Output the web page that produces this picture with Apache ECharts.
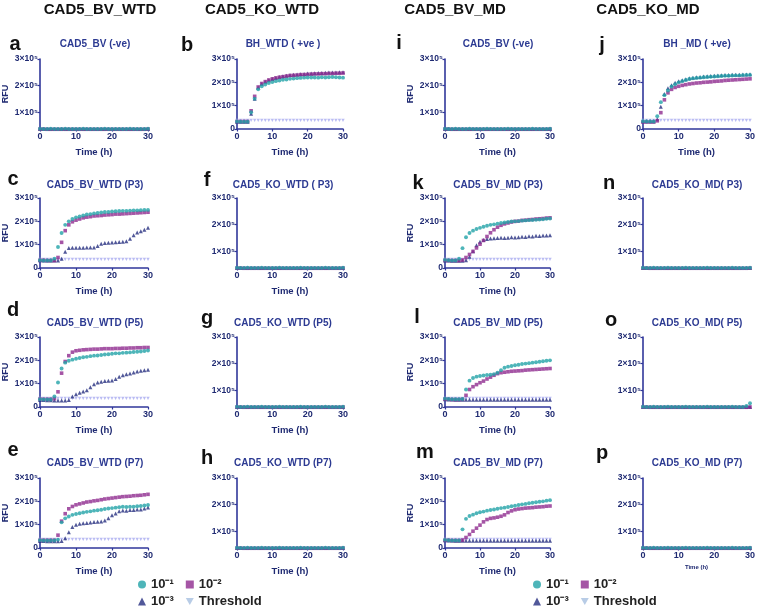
<!DOCTYPE html>
<html><head><meta charset="utf-8">
<script src="https://cdn.jsdelivr.net/npm/echarts@6/dist/echarts.min.js"></script>
<style>html,body{margin:0;padding:0;background:#fff}#c{width:758px;height:606px}</style>
</head><body><div id="c"></div>
<script>
// ---- data (RFU in units of 10^5), readings every hour ----
const time = [0,1,2,3,4,5,6,7,8,9,10,11,12,13,14,15,16,17,18,19,20,21,22,23,24,25,26,27,28,29,30];
const yTicks = [1,2,3];

const threshold = [0.37,0.37,0.37,0.37,0.37,0.37,0.37,0.37,0.37,0.37,
  0.37,0.37,0.37,0.37,0.37,0.37,0.37,0.37,0.37,0.37,
  0.37,0.37,0.37,0.37,0.37,0.37,0.37,0.37,0.37,0.37,0.37];
const negTeal = [0.39,0.38,0.38,0.39,0.38,0.38,0.38,0.39,0.38,0.38,
  0.38,0.38,0.39,0.38,0.38,0.38,0.38,0.38,0.39,0.38,
  0.38,0.38,0.38,0.38,0.38,0.39,0.38,0.38,0.38,0.38,0.39];
const negPurple = [0.38,0.38,0.37,0.37,0.37,0.37,0.37,0.37,0.37,0.37,
  0.37,0.37,0.37,0.37,0.37,0.37,0.37,0.37,0.37,0.37,
  0.37,0.37,0.37,0.37,0.37,0.37,0.37,0.37,0.37,0.37,0.38];
const negNavy = [0.38,0.38,0.38,0.38,0.38,0.38,0.38,0.38,0.38,0.38,
  0.38,0.38,0.38,0.38,0.38,0.38,0.38,0.38,0.38,0.38,
  0.38,0.38,0.38,0.38,0.38,0.38,0.38,0.38,0.38,0.38,0.38];
const o_teal = [0.39,0.38,0.38,0.39,0.38,0.38,0.38,0.39,0.38,0.38,
  0.38,0.38,0.39,0.38,0.38,0.38,0.38,0.38,0.39,0.38,
  0.38,0.38,0.38,0.38,0.38,0.39,0.38,0.38,0.38,0.42,0.52];
const flatNavy = [0.33,0.32,0.32,0.31,0.31,0.31,0.31,0.31,0.31,0.31,
  0.31,0.31,0.31,0.31,0.31,0.31,0.31,0.31,0.31,0.31,
  0.31,0.31,0.31,0.31,0.31,0.31,0.31,0.31,0.31,0.31,0.31];

const b_t1 = [0.32,0.31,0.31,0.31,0.72,1.3,1.7,1.83,1.91,1.97,2.01,2.05,2.08,2.11,2.12,2.15,2.16,2.18,2.19,2.2,2.21,2.21,2.21,2.2,2.22,2.21,2.22,2.23,2.22,2.21,2.2];
const b_t2 = [0.32,0.32,0.32,0.32,0.78,1.4,1.8,1.95,2.03,2.1,2.15,2.19,2.22,2.24,2.27,2.29,2.3,2.31,2.33,2.33,2.34,2.35,2.36,2.36,2.37,2.37,2.38,2.38,2.39,2.39,2.4];
const b_t3 = [0.31,0.31,0.31,0.31,0.65,1.3,1.78,1.93,2.02,2.09,2.14,2.19,2.23,2.26,2.28,2.31,2.32,2.34,2.35,2.36,2.38,2.38,2.39,2.4,2.4,2.41,2.42,2.42,2.42,2.43,2.43];

const c_t1 = [0.33,0.32,0.32,0.32,0.4,0.9,1.5,1.85,2.0,2.1,2.17,2.21,2.25,2.29,2.31,2.34,2.36,2.38,2.4,2.4,2.42,2.43,2.44,2.45,2.45,2.46,2.47,2.47,2.48,2.49,2.49];
const c_t2 = [0.33,0.33,0.32,0.32,0.32,0.45,1.1,1.6,1.85,1.98,2.05,2.1,2.15,2.18,2.2,2.23,2.24,2.25,2.27,2.28,2.29,2.31,2.31,2.32,2.33,2.34,2.35,2.36,2.37,2.38,2.39];
const c_t3 = [0.33,0.32,0.32,0.32,0.32,0.32,0.4,0.7,0.86,0.87,0.87,0.87,0.87,0.88,0.88,0.88,0.94,1.04,1.07,1.08,1.09,1.1,1.11,1.12,1.15,1.25,1.4,1.52,1.58,1.64,1.72];

const d_t1 = [0.33,0.32,0.32,0.32,0.45,1.05,1.65,1.9,1.98,2.03,2.07,2.1,2.13,2.15,2.18,2.2,2.21,2.23,2.25,2.26,2.28,2.3,2.3,2.32,2.33,2.34,2.36,2.37,2.38,2.4,2.42];
const d_t2 = [0.34,0.33,0.33,0.33,0.36,0.65,1.45,1.95,2.2,2.35,2.41,2.43,2.45,2.46,2.47,2.48,2.48,2.49,2.5,2.5,2.5,2.51,2.51,2.52,2.52,2.53,2.53,2.54,2.54,2.55,2.55];
const d_t3 = [0.3,0.3,0.29,0.29,0.28,0.28,0.28,0.28,0.3,0.45,0.55,0.61,0.66,0.72,0.85,0.97,1.05,1.08,1.11,1.13,1.14,1.2,1.3,1.36,1.4,1.44,1.48,1.52,1.55,1.58,1.6];

const e_t1 = [0.33,0.32,0.32,0.32,0.32,0.36,1.1,1.27,1.35,1.42,1.46,1.49,1.52,1.55,1.57,1.6,1.62,1.64,1.67,1.69,1.71,1.73,1.75,1.77,1.76,1.77,1.77,1.79,1.8,1.82,1.84];
const e_t2 = [0.33,0.33,0.33,0.33,0.33,0.55,1.15,1.47,1.68,1.78,1.85,1.89,1.93,1.97,1.99,2.02,2.04,2.07,2.1,2.12,2.14,2.16,2.18,2.2,2.21,2.22,2.24,2.25,2.26,2.28,2.3];
const e_t3 = [0.3,0.3,0.29,0.29,0.29,0.29,0.3,0.42,0.68,0.9,1.0,1.04,1.06,1.07,1.09,1.11,1.12,1.14,1.18,1.28,1.4,1.48,1.57,1.61,1.6,1.63,1.63,1.65,1.65,1.69,1.74];

const j_t1 = [0.33,0.32,0.32,0.32,0.55,1.15,1.45,1.65,1.82,1.92,2.0,2.05,2.1,2.14,2.17,2.19,2.2,2.22,2.23,2.24,2.25,2.26,2.27,2.28,2.28,2.29,2.3,2.3,2.31,2.32,2.32];
const j_t2 = [0.3,0.3,0.3,0.3,0.35,0.7,1.25,1.55,1.7,1.78,1.83,1.87,1.9,1.93,1.95,1.97,1.98,2.0,2.01,2.02,2.04,2.05,2.06,2.08,2.09,2.1,2.11,2.12,2.13,2.14,2.15];
const j_t3 = [0.33,0.33,0.33,0.33,0.42,0.95,1.5,1.75,1.88,1.98,2.05,2.09,2.13,2.17,2.2,2.22,2.23,2.25,2.26,2.27,2.28,2.29,2.3,2.31,2.31,2.32,2.32,2.33,2.34,2.34,2.35];

const k_t1 = [0.35,0.33,0.32,0.32,0.4,0.85,1.32,1.5,1.6,1.67,1.72,1.77,1.81,1.85,1.87,1.9,1.93,1.95,1.97,1.99,2.0,2.01,2.03,2.04,2.05,2.06,2.07,2.08,2.09,2.11,2.12];
const k_t2 = [0.33,0.32,0.32,0.32,0.32,0.34,0.45,0.58,0.71,0.86,1.02,1.18,1.35,1.51,1.64,1.75,1.83,1.89,1.93,1.97,2.0,2.01,2.04,2.05,2.07,2.08,2.1,2.11,2.12,2.14,2.15];
const k_t3 = [0.32,0.32,0.31,0.31,0.31,0.31,0.33,0.48,0.72,0.98,1.13,1.2,1.24,1.26,1.28,1.29,1.3,1.29,1.3,1.32,1.31,1.32,1.34,1.33,1.36,1.35,1.38,1.37,1.39,1.39,1.4];

const l_t1 = [0.36,0.34,0.33,0.33,0.33,0.34,0.75,1.13,1.24,1.3,1.33,1.35,1.37,1.38,1.41,1.47,1.58,1.68,1.73,1.76,1.79,1.81,1.84,1.86,1.88,1.9,1.92,1.94,1.96,1.98,2.0];
const l_t2 = [0.34,0.33,0.32,0.32,0.32,0.33,0.5,0.75,0.87,0.96,1.04,1.11,1.2,1.28,1.36,1.43,1.47,1.49,1.51,1.53,1.54,1.55,1.56,1.58,1.59,1.6,1.61,1.62,1.63,1.64,1.65];

const m_t1 = [0.35,0.33,0.32,0.32,0.32,0.8,1.25,1.37,1.43,1.49,1.53,1.56,1.6,1.63,1.65,1.68,1.71,1.73,1.76,1.79,1.81,1.84,1.87,1.89,1.92,1.94,1.96,1.98,2.0,2.03,2.05];
const m_t2 = [0.33,0.33,0.32,0.32,0.32,0.34,0.45,0.58,0.72,0.85,0.98,1.12,1.22,1.27,1.29,1.32,1.36,1.42,1.52,1.59,1.64,1.67,1.69,1.71,1.72,1.73,1.75,1.76,1.77,1.79,1.8];

const headers = ['CAD5_BV_WTD','CAD5_KO_WTD','CAD5_BV_MD','CAD5_KO_MD'];
const seriesNames = ['10⁻¹','10⁻²','10⁻³','Threshold'];

// ---- panels ----
const panels = [
  {k:'a', title:'CAD5_BV (-ve)',      r:0,c:0, s:[negTeal,negPurple,negNavy], neg:true},
  {k:'b', title:'BH_WTD ( +ve )',     r:0,c:1, s:[b_t1,b_t2,b_t3]},
  {k:'c', title:'CAD5_BV_WTD (P3)',   r:1,c:0, s:[c_t1,c_t2,c_t3]},
  {k:'d', title:'CAD5_BV_WTD (P5)',   r:2,c:0, s:[d_t1,d_t2,d_t3]},
  {k:'e', title:'CAD5_BV_WTD (P7)',   r:3,c:0, s:[e_t1,e_t2,e_t3]},
  {k:'f', title:'CAD5_KO_WTD ( P3)',  r:1,c:1, s:[negTeal,negPurple,negNavy], neg:true},
  {k:'g', title:'CAD5_KO_WTD (P5)',   r:2,c:1, s:[negTeal,negPurple,negNavy], neg:true},
  {k:'h', title:'CAD5_KO_WTD (P7)',   r:3,c:1, s:[negTeal,negPurple,negNavy], neg:true},
  {k:'i', title:'CAD5_BV (-ve)',      r:0,c:2, s:[negTeal,negPurple,negNavy], neg:true},
  {k:'j', title:'BH _MD ( +ve)',      r:0,c:3, s:[j_t1,j_t2,j_t3]},
  {k:'k', title:'CAD5_BV_MD (P3)',    r:1,c:2, s:[k_t1,k_t2,k_t3]},
  {k:'l', title:'CAD5_BV_MD (P5)',    r:2,c:2, s:[l_t1,l_t2,flatNavy]},
  {k:'m', title:'CAD5_BV_MD (P7)',    r:3,c:2, s:[m_t1,m_t2,flatNavy]},
  {k:'n', title:'CAD5_KO_MD( P3)',    r:1,c:3, s:[negTeal,negPurple,negNavy], neg:true, noX:true},
  {k:'o', title:'CAD5_KO_MD( P5)',    r:2,c:3, s:[o_teal,negPurple,negNavy], neg:true, noX:true},
  {k:'p', title:'CAD5_KO_MD (P7)',    r:3,c:3, s:[negTeal,negPurple,negNavy], neg:true, smallName:true}
];

// ---- layout / style ----
const colLeft = [40,237,445,643], colWidth = [108,106,105,107];
const rowTop = [59,198,337,478], plotH = 70;
const titleX = [95,283,498,697], titleY = [44,185,323,463];
const headerX = [100,262,455,648];
const letterPos = {a:[15,44],b:[187,45],c:[13,179],d:[13,310],e:[13,450],f:[207,180],g:[207,318],h:[207,458],
  i:[399,43],j:[602,45],k:[418,183],l:[417,317],m:[425,452],n:[609,183],o:[611,320],p:[602,453]};
const AX = '#30379a', LAB = '#1f2a72', TTL = '#2c3a92';
const colors = ['#22a2a8','#8e2b8e','#252e80','#a9abf0'];
const downTri = 'path://M0,0 L10,0 L5,9 Z';
const symbols = ['circle','rect','triangle',downTri];
const sizes = [3.9,3.6,4,3.4];

const grid=[], xAxis=[], yAxis=[], series=[], graphic=[];
panels.forEach((p,gi)=>{
  grid.push({left:colLeft[p.c], top:rowTop[p.r], width:colWidth[p.c], height:plotH});
  xAxis.push({gridIndex:gi, type:'value', min:0, max:30, interval:10,
    name: p.noX ? '' : 'Time (h)', nameLocation:'middle', nameGap: p.smallName?16:18,
    nameTextStyle:{fontSize: p.smallName?6:9.5, fontWeight:'bold', color:LAB, fontFamily:'Liberation Sans'},
    axisLine:{lineStyle:{color:AX, width:1.6}}, axisTick:{show:!p.noX, length:2.5, lineStyle:{color:AX,width:1.2}},
    axisLabel:{show:!p.noX, fontSize:9, fontWeight:'bold', color:LAB, margin:3, fontFamily:'Liberation Sans'},
    splitLine:{show:false}});
  const yax = {gridIndex:gi, type:'value', max:3,
    name: (p.c===0||p.c===2)?'RFU':'', nameLocation:'middle', nameGap:30,
    nameTextStyle:{fontSize:9, fontWeight:'bold', color:LAB, fontFamily:'Liberation Sans'},
    axisLine:{show:true, lineStyle:{color:AX, width:1.6}}, axisTick:{show:true, length:2.5, lineStyle:{color:AX,width:1.2}},
    axisLabel:{fontSize:8.5, fontWeight:'bold', color:LAB, margin:2, fontFamily:'Liberation Sans',
      formatter:v=> v===0 ? '0' : v+'×10⁵'},
    splitLine:{show:false}};
  if(p.neg){ yax.min=0.38; yax.axisLabel.customValues=yTicks; yax.axisTick.customValues=yTicks; }
  else { yax.min=0; yax.interval=1; }
  yAxis.push(yax);
  const order = p.neg ? [2,1,0] : [3,2,1,0];
  order.forEach(si=>{
    const arr = si===3 ? threshold : p.s[si];
    series.push({type:'scatter', name:seriesNames[si], xAxisIndex:gi, yAxisIndex:gi, clip:false, silent:true,
      symbol:symbols[si], symbolSize:sizes[si], itemStyle:{color:colors[si]},
      data: time.map((t,i)=>[t,arr[i]])});
  });
  graphic.push({type:'text', x:titleX[p.c], y:titleY[p.r], style:{text:p.title, align:'center', verticalAlign:'middle',
    font:'bold 10px "Liberation Sans"', fill:TTL}});
  const lp = letterPos[p.k];
  graphic.push({type:'text', x:lp[0], y:lp[1], style:{text:p.k, align:'center', verticalAlign:'middle',
    font:'bold 20px "Liberation Sans"', fill:'#111'}});
});
headers.forEach((h,i)=>{
  graphic.push({type:'text', x:headerX[i], y:10, style:{text:h, align:'center', verticalAlign:'middle',
    font:'bold 15px "Liberation Sans"', fill:'#111'}});
});

const legTxt = {fontSize:13, fontWeight:'bold', color:'#222', fontFamily:'Liberation Sans'};
function legend(left, top, names){
  return {left, top, orient:'horizontal', itemWidth:8, itemHeight:8, itemGap:12, selectedMode:false,
    textStyle:legTxt, data:names.map(n=> n==='Threshold' ? {name:n, itemStyle:{color:'#a6bfe0'}} : {name:n})};
}

const chart = echarts.init(document.getElementById('c'), null, {renderer:'canvas'});
chart.setOption({
  animation:false, backgroundColor:'#fff',
  grid, xAxis, yAxis, series, graphic,
  legend:[legend(133,573,['10⁻¹','10⁻²']), legend(133,590,['10⁻³','Threshold']),
          legend(528,573,['10⁻¹','10⁻²']), legend(528,590,['10⁻³','Threshold'])]
});
</script></body></html>
